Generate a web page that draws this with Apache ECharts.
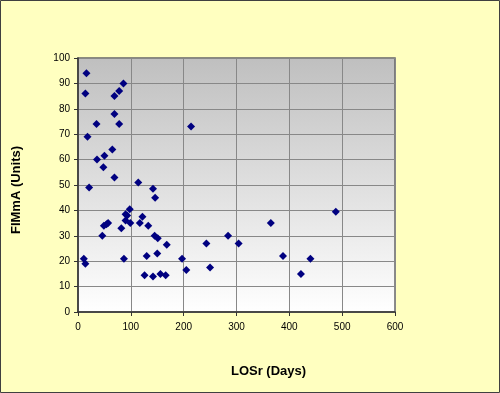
<!DOCTYPE html>
<html>
<head>
<meta charset="utf-8">
<script src="https://cdn.jsdelivr.net/npm/echarts@6/dist/echarts.min.js"></script>
<style>
html, body { margin: 0; padding: 0; background: #FFFFC0; }
#chart { width: 500px; height: 393px; }
</style>
</head>
<body>
<div id="chart"></div>
<script>
// LOSr (days) vs FIMmA (units)
var losDays = [16, 86, 14, 78, 69, 69, 35, 78, 214, 18, 65, 36, 50, 48, 69, 21, 114, 142, 146,
	98, 90, 93, 90, 99, 122, 117, 133, 49, 54, 57, 82, 46, 145, 151, 168, 130, 150, 197, 205,
	11, 14, 87, 126, 142, 156, 166, 488, 365, 284, 243, 304, 250, 388, 440, 422];
var fimUnits = [94, 90, 86, 87, 85, 78, 74, 74, 73, 69, 64, 60, 61.5, 57, 53, 49, 51, 48.5, 45,
	40.5, 38.5, 38, 36, 35, 37.5, 35, 34, 34, 34.5, 35, 33, 30, 30, 29, 26.5, 22, 23, 21, 16.5,
	21, 19, 21, 14.5, 14, 15, 14.5, 39.5, 35, 30, 27, 27, 17.5, 22, 21, 15];
var xTicks = [0, 100, 200, 300, 400, 500, 600];

var points = losDays.map(function(d, i) { return [d, fimUnits[i]]; });

var chart = echarts.init(document.getElementById('chart')),
option = {
	animation: false,
	backgroundColor: '#FFFFC0',
	graphic: [{
		type: 'rect',
		shape: { x: 0.5, y: 0.5, width: 499, height: 392 },
		style: { fill: 'none', stroke: '#404040', lineWidth: 1 },
		silent: true
	}],
	grid: {
		left: 78, top: 58, right: 105, bottom: 81,
		show: true,
		borderColor: '#666666',
		borderWidth: 1.5,
		backgroundColor: new echarts.graphic.LinearGradient(0, 0, 0, 1, [
			{ offset: 0, color: '#BFBFBF' },
			{ offset: 1, color: '#FFFFFF' }
		])
	},
	xAxis: {
		type: 'value',
		min: 0, max: 600, interval: 100,
		name: 'LOSr (Days)',
		nameLocation: 'middle',
		nameGap: 53,
		nameTextStyle: { fontFamily: 'Liberation Sans', fontWeight: 'bold', fontSize: 13, color: '#000', padding: [0, 0, 0, 64] },
		axisLine: { show: true, lineStyle: { color: '#333', width: 1.5 } },
		axisTick: { show: true, length: 4, lineStyle: { color: '#333' } },
		axisLabel: { fontFamily: 'Liberation Sans', fontSize: 10, color: '#000', margin: 10 },
		splitLine: { show: true, lineStyle: { color: '#888888', width: 1 } }
	},
	yAxis: {
		type: 'value',
		min: 0, max: 100, interval: 10,
		name: 'FIMmA (Units)',
		nameLocation: 'middle',
		nameGap: 55,
		nameTextStyle: { fontFamily: 'Liberation Sans', fontWeight: 'bold', fontSize: 13, color: '#000', padding: [0, 10, 0, 0] },
		axisLine: { show: true, lineStyle: { color: '#333', width: 1.5 } },
		axisTick: { show: true, length: 4, lineStyle: { color: '#333' } },
		axisLabel: { fontFamily: 'Liberation Sans', fontSize: 10, color: '#000', margin: 8 },
		splitLine: { show: true, lineStyle: { color: '#888888', width: 1 } }
	},
	series: [{
		type: 'scatter',
		symbol: 'diamond',
		symbolSize: 8,
		itemStyle: { color: '#000080', opacity: 1 },
		data: points
	}]
};
chart.setOption(option);
</script>
</body>
</html>
